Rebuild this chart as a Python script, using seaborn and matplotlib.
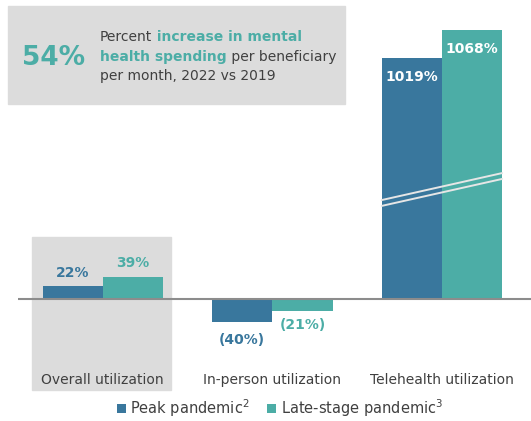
import numpy as np
import pandas as pd
import matplotlib
matplotlib.use("Agg")
import matplotlib.pyplot as plt
import seaborn as sns
from matplotlib.patches import Rectangle

# data
categories = ["Overall utilization", "In-person utilization", "Telehealth utilization"]
series = ["Peak pandemic", "Late-stage pandemic"]
peak = [22, -40, 1019]
late = [39, -21, 1068]
legend_labels = ["Peak pandemic$^2$", "Late-stage pandemic$^3$"]

df = pd.DataFrame({
    "category": categories * 2,
    "period": [series[0]] * 3 + [series[1]] * 3,
    "value": peak + late,
})

dark = "#39779d"
teal = "#4cada6"
grey_txt = "#404040"
box_grey = "#dcdcdc"

sns.set_theme(style="white")
plt.rcParams["font.family"] = ["DejaVu Sans"]

fig = plt.figure(figsize=(5.31, 4.21), dpi=100)
ax = fig.add_axes([18 / 531, 76 / 421, 513 / 531, 325 / 421])
ax.set_facecolor("none")

# broken y scale: squeeze 170..780 so the telehealth bars fit
def fwd(y):
    return np.interp(y, [-1e4, 170, 780, 1e4], [-1e4, 170, 184, 1e4 - 596])

def inv(y):
    return np.interp(y, [-1e4, 170, 184, 1e4 - 596], [-1e4, 170, 780, 1e4])

ax.set_yscale("function", functions=(fwd, inv))

sns.barplot(data=df, x="category", y="value", hue="period", order=categories,
            hue_order=series, palette=[dark, teal], saturation=1, width=0.71,
            linewidth=0, ax=ax)

ax.set_xlim(-0.5, 2.525)
ax.set_ylim(-80.7, 1085.5)
ax.axhline(0, color="#8c8c8c", lw=1.5, zorder=3)

for sp in ax.spines.values():
    sp.set_visible(False)
ax.set_yticks([])
ax.set_xlabel("")
ax.set_ylabel("")
ax.tick_params(axis="x", length=0, pad=20, labelsize=10, labelcolor=grey_txt)

# value labels
def fmt(v):
    return f"({abs(v)}%)" if v < 0 else f"{v}%"

for cont, vals, col in zip(ax.containers, [peak, late], [dark, teal]):
    labs = [fmt(v) if v < 500 else "" for v in vals]
    ax.bar_label(cont, labels=labs, padding=5, color=col, fontsize=10,
                 fontweight="bold")
    for bar, v in zip(cont, vals):
        if v >= 500:
            ax.annotate(f"{v}%", (bar.get_x() + bar.get_width() / 2, v),
                        xytext=(0, -14), textcoords="offset points",
                        ha="center", va="center", color="white",
                        fontsize=10, fontweight="bold")

# (40%) sits a bit lower in the original
for t in ax.texts:
    if t.get_text() == "(40%)":
        t.set_position((t.get_position()[0], t.get_position()[1] - 3))

# break lines across the telehealth bars
b0 = ax.containers[0][2]
b1 = ax.containers[1][2]
xs = [b0.get_x(), b1.get_x() + b1.get_width()]
tr = ax.get_xaxis_transform()
ax.plot(xs, [0.446, 0.529], color="#e6e6e6", lw=1.4, transform=tr, zorder=4)
ax.plot(xs, [0.428, 0.511], color="#e6e6e6", lw=1.4, transform=tr, zorder=4)

# legend
handles, _ = ax.get_legend_handles_labels()
ax.get_legend().remove()
fig.legend(handles, legend_labels, loc="center", bbox_to_anchor=(280 / 531, 13 / 421),
           ncol=2, frameon=False, handlelength=0.6, handleheight=0.6,
           handletextpad=0.3, columnspacing=1.2, fontsize=10.5, labelcolor=grey_txt)

# grey panels
fig.add_artist(Rectangle((32 / 531, 31 / 421), 139 / 531, 153 / 421,
                         transform=fig.transFigure, color=box_grey, zorder=-1))
fig.add_artist(Rectangle((8 / 531, 317 / 421), 337 / 531, 98 / 421,
                         transform=fig.transFigure, color=box_grey, zorder=-1))

# callout text
fig.text(54 / 531, 1 - 58 / 421, "54%", color=teal, fontsize=19, fontweight="bold",
         ha="center", va="center")
tx = 100 / 531
fs = 10
t1 = fig.text(tx, 1 - 41 / 421, "Percent", color=grey_txt, fontsize=fs)
ax.annotate(" increase in mental", xy=(1, 0), xycoords=t1, va="bottom",
            color=teal, fontsize=fs, fontweight="bold", annotation_clip=False)
t2 = fig.text(tx, 1 - 61 / 421, "health spending", color=teal, fontsize=fs,
              fontweight="bold")
ax.annotate(" per beneficiary", xy=(1, 0), xycoords=t2, va="bottom",
            color=grey_txt, fontsize=fs, annotation_clip=False)
fig.text(tx, 1 - 80 / 421, "per month, 2022 vs 2019", color=grey_txt, fontsize=fs)

fig.savefig("out.png", dpi=100)
